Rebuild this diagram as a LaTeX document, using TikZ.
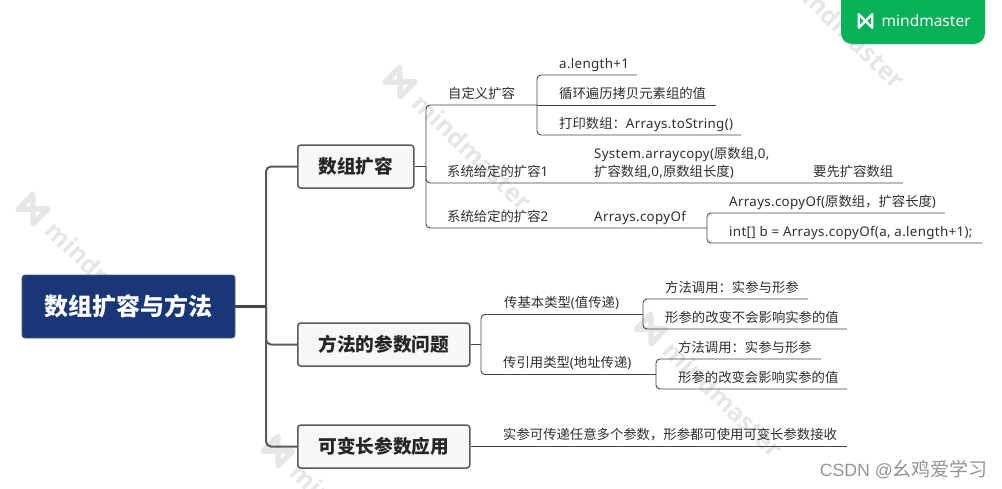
\documentclass[tikz,border=0pt]{standalone}
\usepackage{fontspec}
\setmainfont{Noto Sans CJK SC}
\newfontfamily\lat[LetterSpace=2.4]{Noto Sans}
\newfontfamily\wmfont{Open Sans}
\newfontfamily\csdnfont{Liberation Sans}
\newcommand\LT[1]{{\lat #1}}
\definecolor{rootblue}{HTML}{193676}
\definecolor{linec}{HTML}{454545}
\definecolor{trunkc}{HTML}{595959}
\definecolor{wm}{HTML}{E6E6E6}
\definecolor{badge}{HTML}{06B157}
\tikzset{
  x=1pt,y=-1pt,
  rootbox/.style={draw=rootblue!80!white,fill=rootblue,rounded corners=3pt,line width=.8pt,text=white,
    font=\fontsize{24}{24}\selectfont\bfseries,minimum width=213pt,minimum height=63pt,inner sep=0pt},
  topicbox/.style={draw=trunkc,fill=black!3,rounded corners=3pt,line width=1.5pt,text=black!85,anchor=west,
    font=\fontsize{18.7}{20}\selectfont\bfseries,minimum height=43pt,inner sep=0pt},
  leaf/.style={anchor=base west,inner sep=0pt,font=\fontsize{13.35}{18}\selectfont,text=black!82},
  trunk/.style={draw=trunkc,line width=2pt,rounded corners=5pt},
  branch/.style={draw=linec,line width=.9pt,rounded corners=4pt},
  wmtext/.style={text=wm,font=\fontsize{25}{25}\selectfont\bfseries,inner sep=0pt,anchor=west,transform shape},
}
\newcommand\logomark[3]{%
  \draw[#3,line width=#2pt,line join=round,line cap=round] (-#1,-#1) -- (-#1,#1) -- (#1,-#1) -- (#1,#1) -- cycle;}
\newcommand\wmark[2]{%
  \begin{scope}[shift={(#1,#2)},rotate=-44]
    \logomark{10.5}{5.5}{wm}
    \node[wmtext] at (24,0) {\wmfont mindmaster};
  \end{scope}}
\begin{document}
\begin{tikzpicture}
\useasboundingbox (0,0) rectangle (1002,488);
\begin{scope}
  \clip (0,0) rectangle (1002,488);
  \wmark{33}{209}
  \wmark{400}{82}
  \wmark{651}{329}
  \wmark{278}{451}
  \wmark{773}{-40}
\end{scope}

% top-level nodes
\node[rootbox] (root) at (128.5,306.5) {数组扩容与方法};
\node[topicbox,minimum width=116pt] (t1) at (297,166.5) {数组扩容};
\node[topicbox,minimum width=172pt] (t2) at (297,344.5) {方法的参数问题};
\node[topicbox,minimum width=172pt] (t3) at (297,446.5) {可变长参数应用};

% junctions and line ends
\coordinate (jr) at (266,306.5);
\coordinate (j1) at (426,166.5);
\coordinate (a1) at (537,105);
\coordinate (a1t) at (637,75);
\coordinate (a1m) at (716,105);
\coordinate (a1b) at (741,135);
\coordinate (a2) at (903,183);
\coordinate (a3) at (707,228);
\coordinate (a3t) at (945,213);
\coordinate (a3b) at (982,243);
\coordinate (j2) at (481,344.5);
\coordinate (b1) at (643,314.5);
\coordinate (b1t) at (808,299);
\coordinate (b1b) at (847,329);
\coordinate (b2) at (656,374.5);
\coordinate (b2t) at (821,359);
\coordinate (b2b) at (847,389);
\coordinate (c1) at (847,446.5);

% connectors
\draw[trunk] (jr) |- (t1.west);
\draw[trunk] (jr) |- (t2.west);
\draw[trunk] (jr) |- (t3.west);
\draw[draw=linec,line width=3pt] (root.east) -- (jr);

\draw[branch] (t1.east) -- (j1);
\draw[branch] (j1) |- (a1);
\draw[branch] (j1) |- (a2);
\draw[branch] (j1) |- (a3);
\draw[branch] (a1) |- (a1t);
\draw[branch] (a1) -- (a1m);
\draw[branch] (a1) |- (a1b);
\draw[branch] (a3) |- (a3t);
\draw[branch] (a3) |- (a3b);

\draw[branch] (t2.east) -- (j2);
\draw[branch] (j2) |- (b1);
\draw[branch] (j2) |- (b2);
\draw[branch] (b1) |- (b1t);
\draw[branch] (b1) |- (b1b);
\draw[branch] (b2) |- (b2t);
\draw[branch] (b2) |- (b2b);
\draw[branch] (t3.east) -- (c1);

% texts
\node[leaf] (n1) at (448,98) {自定义扩容};
\node[leaf] (n11) at (559,68) {\LT{a.length+1}};
\node[leaf] (n12) at (559,98) {循环遍历拷贝元素组的值};
\node[leaf] (n13) at (559,128) {打印数组：\LT{Arrays.toString()}};
\node[leaf] (n2) at (447,176.5) {系统给定的扩容\LT{1}};
\node[leaf] (n21) at (594,158) {\LT{System.arraycopy(}原数组\LT{,0,}};
\node[leaf] (n22) at (594,176) {扩容数组\LT{,0,}原数组长度\LT{)}};
\node[leaf] (n23) at (813,176.5) {要先扩容数组};
\node[leaf] (n3) at (447,221.5) {系统给定的扩容\LT{2}};
\node[leaf] (n31) at (594,221) {\LT{Arrays.copyOf}};
\node[leaf] (n311) at (729,206) {\LT{Arrays.copyOf(}原数组，扩容长度\LT{)}};
\node[leaf] (n312) at (729,236.5) {\LT{int[] b = Arrays.copyOf(a, a.length+1);}};

\node[leaf] (m1) at (504,307) {传基本类型\LT{(}值传递\LT{)}};
\node[leaf] (m11) at (665,292.5) {方法调用：实参与形参};
\node[leaf] (m12) at (665,322.5) {形参的改变不会影响实参的值};
\node[leaf] (m2) at (503,367) {传引用类型\LT{(}地址传递\LT{)}};
\node[leaf] (m21) at (678,352.5) {方法调用：实参与形参};
\node[leaf] (m22) at (678,382.5) {形参的改变会影响实参的值};
\node[leaf] (k1) at (503,439) {实参可传递任意多个参数，形参都可使用可变长参数接收};

% badge
\draw[fill=badge,draw=none] (841,-10) -- (985,-10) -- (985,33) arc[start angle=0,end angle=90,radius=11] -- (852,44) arc[start angle=90,end angle=180,radius=11] -- cycle;
\begin{scope}[shift={(865.5,21)}]
  \logomark{6.8}{2.2}{white}
\end{scope}
\node[anchor=west,inner sep=0pt,text=white,font=\fontsize{15.5}{17}\selectfont] (brand) at (881.5,21) {{\fontspec{Noto Sans}mindmaster}};
\node[anchor=east,inner sep=0pt,text=black!42] (csdn) at (988,470) {{\csdnfont\fontsize{17.7}{19}\selectfont CSDN @}{\fontsize{19}{19}\selectfont 幺鸡爱学习}};
\end{tikzpicture}
\end{document}
